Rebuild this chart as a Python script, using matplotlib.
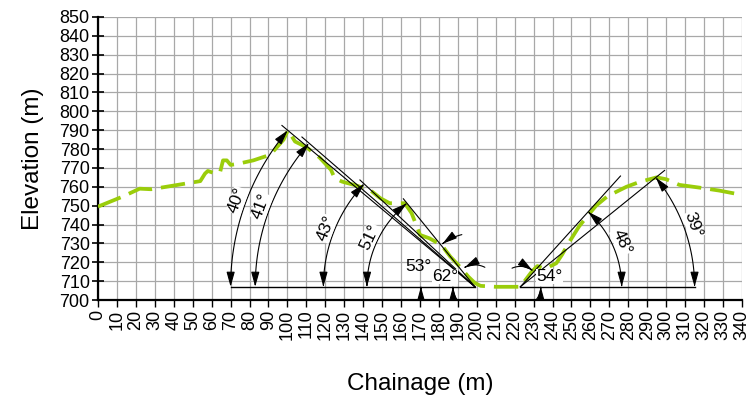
import numpy as np
import matplotlib
matplotlib.use("Agg")
from matplotlib import pyplot as plt
from matplotlib.patches import FancyArrowPatch
from matplotlib.path import Path

plt.rcParams['font.family'] = ['Liberation Sans', 'DejaVu Sans']

# ground profile (chainage m, elevation m)
chainage = [0, 13, 22, 28, 36, 45, 54, 56.5, 58, 62, 64.4, 66, 68, 70, 73, 82, 91, 98,
            100.3, 104, 110, 117, 123, 125, 129, 137, 144, 149, 154, 162, 165.6, 168.3,
            170, 175, 181.5, 186, 191, 195.5, 199, 202, 210, 223, 229, 232, 236, 242,
            245, 249, 254, 258, 263, 269, 279, 286, 295, 300, 307, 318, 328, 340]
elevation = [749.5, 754.8, 759, 758.7, 760, 761.5, 763, 767, 768.4, 767, 767.5, 774, 774,
             771.6, 772, 774, 777, 785, 790, 784, 781, 775.5, 769, 764.5, 762.7, 760.5,
             758, 754, 751.3, 751.3, 746, 739, 734.5, 732.7, 729, 723, 717.7, 712.4, 709,
             707.5, 707, 707, 715, 718, 716.5, 719.5, 724, 731, 739, 744, 750, 755, 760,
             762.6, 765, 764, 761, 759.5, 758, 755.7]

# slope angle lines from the two toe points
base_y = 707
left_toe = 199
right_toe = 223
left_angles = [40, 41, 43, 51]
left_radius = [129, 116, 80, 57]
left_length = [133, 121, 83, 60]
left_label_phi = [160, 159.3, 158.6, 154.7]
right_angles = [48, 39]
right_radius = [53.5, 92]
right_length = [79, 98]
right_label_phi = [24, 19.8]

# small angles marked with outside arrows: (angle, radius, top tail, bottom tail)
small_left = [(53, 28.5, 104, 204), (62, 11.6, 63, 233)]
small_right = [(54, 10.8, 114, -61)]

fig = plt.figure(figsize=(7.54, 4.04), dpi=100)
ax = fig.add_axes([0.130, 0.2574, 0.854, 0.7006])

ax.set_xlim(0, 340)
ax.set_ylim(700, 850)
ax.set_xticks(np.arange(0, 341, 10))
ax.set_yticks(np.arange(700, 851, 10))
ax.set_xticks([0, 100, 200, 300], minor=True)
ax.grid(True, color='#a8a8a8', lw=0.9)
ax.set_axisbelow(True)
for s in ['top', 'right']:
    ax.spines[s].set_visible(False)
for s in ['left', 'bottom']:
    ax.spines[s].set_linewidth(1.6)
ax.tick_params(axis='y', direction='inout', length=8, width=1.2, labelsize=13, pad=2)
ax.tick_params(axis='x', which='major', direction='out', length=5, width=1,
               labelsize=13, labelrotation=90, pad=2)
ax.tick_params(axis='x', which='minor', direction='inout', length=10, width=1.2)
ax.set_xlabel('Chainage (m)', fontsize=17.5, labelpad=24)
ax.set_ylabel('Elevation (m)', fontsize=17.5, labelpad=11)

ax.plot(chainage, elevation, color='#9acd0a', lw=2.7, dashes=(6.5, 2.4), zorder=4)

# baselines
ax.plot([left_toe - left_radius[0], left_toe], [base_y, base_y], color='k', lw=1, zorder=3)
ax.plot([right_toe, right_toe + right_radius[1]], [base_y, base_y], color='k', lw=1, zorder=3)


def arc(cx, cy, r, a0, a1, n=80):
    t = np.radians(np.linspace(a0, a1, n))
    return np.column_stack([cx + r * np.cos(t), cy + r * np.sin(t)])


def arrow_path(pts, style):
    p = FancyArrowPatch(path=Path(pts), arrowstyle=style, color='k', lw=0.8,
                        mutation_scale=10, zorder=5)
    ax.add_patch(p)


both = '<|-|>,head_length=0.9,head_width=0.25'
one = '-|>,head_length=0.9,head_width=0.25'

for ang, r, L, phi in zip(left_angles, left_radius, left_length, left_label_phi):
    d = np.radians(180 - ang)
    ax.plot([left_toe, left_toe + L * np.cos(d)], [base_y, base_y + L * np.sin(d)],
            color='k', lw=0.8, zorder=5)
    arrow_path(arc(left_toe, base_y, r, 180 - ang, 180), both)
    rl = r + 4.5
    p = np.radians(phi)
    ax.text(left_toe + rl * np.cos(p), base_y + rl * np.sin(p), f'{ang}°', fontsize=12.5,
            rotation=phi - 90, ha='center', va='center', zorder=6,
            bbox=dict(fc='white', ec='none', pad=0.3))

for ang, r, L, phi in zip(right_angles, right_radius, right_length, right_label_phi):
    d = np.radians(ang)
    ax.plot([right_toe, right_toe + L * np.cos(d)], [base_y, base_y + L * np.sin(d)],
            color='k', lw=0.8, zorder=5)
    arrow_path(arc(right_toe, base_y, r, ang, 0), both)
    rl = r + 5
    p = np.radians(phi)
    ax.text(right_toe + rl * np.cos(p), base_y + rl * np.sin(p), f'{ang}°', fontsize=12.5,
            rotation=phi - 90, ha='center', va='center', zorder=6,
            bbox=dict(fc='white', ec='none', pad=0.3))

for ang, r, top, bot in small_left:
    arrow_path(arc(left_toe, base_y, r, top, 180 - ang), one)
    arrow_path(arc(left_toe, base_y, r, bot, 180), one)
for ang, r, top, bot in small_right:
    arrow_path(arc(right_toe, base_y, r, top, ang), one)
    arrow_path(arc(right_toe, base_y, r, bot, 0), one)

ax.text(169, 718, '53°', fontsize=12.5, ha='center', va='center', zorder=6)
ax.text(183.2, 712.4, '62°', fontsize=12.5, ha='center', va='center', zorder=6,
        bbox=dict(fc='white', ec='none', pad=0.3))
ax.text(238.6, 712.4, '54°', fontsize=12.5, ha='center', va='center', zorder=6,
        bbox=dict(fc='white', ec='none', pad=0.3))

fig.savefig('out.png', dpi=100)
